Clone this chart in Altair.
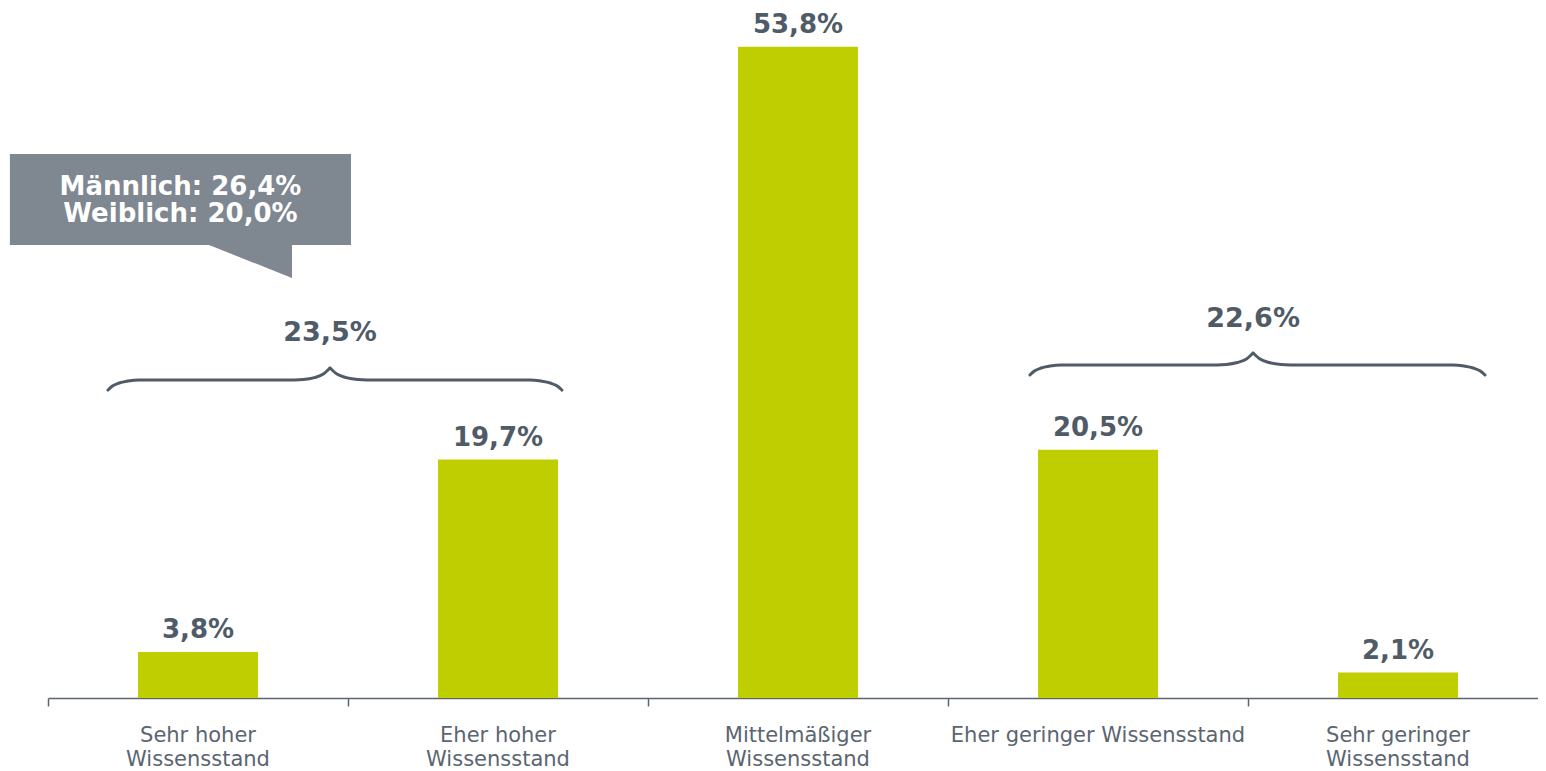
import altair as alt
import pandas as pd

# ---- data ----
categories = ["Sehr hoher\nWissensstand", "Eher hoher\nWissensstand", "Mittelmäßiger\nWissensstand",
              "Eher geringer Wissensstand", "Sehr geringer\nWissensstand"]
positions = [0, 1, 2, 3, 4]
values = [3.8, 19.7, 53.8, 20.5, 2.1]
value_labels = ["3,8%", "19,7%", "53,8%", "20,5%", "2,1%"]

brace_labels = ["23,5%", "22,6%"]
brace_left = [-0.30, 2.773]
brace_tip = [0.44, 3.517]
brace_right = [1.213, 4.29]
brace_end_y = [25.44, 26.68]
brace_label_y = [29.49, 30.65]

# normalized half-brace shape (fraction toward tip, rise in % units)
shape_u = [0, 0.02, 0.05, 0.09, 0.14, 0.80, 0.88, 0.93, 0.97, 1.0]
shape_rise = [0, 0.33, 0.58, 0.74, 0.83, 0.83, 0.88, 1.03, 1.32, 1.82]

callout_lines = "Männlich: 26,4%\nWeiblich: 20,0%"
callout_box = {"x": -0.627, "x2": 0.51, "y": 44.94, "y2": 37.42}
callout_ptr_x = [0.0367, 0.3133]
callout_ptr_y = [37.42, 34.70]
callout_text_pos = {"x": -0.0583, "y": 41.55}

tick_values = [-0.5, 0.5, 1.5, 2.5, 3.5, 4.5]

GREEN = "#BFCE00"
DARK = "#4f5b67"
AXIS = "#5b6670"
LABEL = "#5a6571"
BOX = "#7f8791"
FONT = "DejaVu Sans"

X_DOMAIN = [-0.5, 4.4667]
Y_DOMAIN = [0, 57]

bars_df = pd.DataFrame({"pos": positions, "value": values, "label": value_labels, "cat": categories})

rows = []
for i in range(len(brace_labels)):
    for u, r in zip(shape_u, shape_rise):
        rows.append({"grp": f"{i}L", "x": brace_left[i] + u * (brace_tip[i] - brace_left[i]), "y": brace_end_y[i] + r})
        rows.append({"grp": f"{i}R", "x": brace_right[i] - u * (brace_right[i] - brace_tip[i]), "y": brace_end_y[i] + r})
brace_df = pd.DataFrame(rows)
brace_lab_df = pd.DataFrame({"x": brace_tip, "y": brace_label_y, "label": brace_labels})

xs = alt.Scale(domain=X_DOMAIN, nice=False, zero=False, padding=0)
ys = alt.Scale(domain=Y_DOMAIN, nice=False, padding=0)

base = alt.Chart(bars_df)

bars = base.mark_bar(size=120, color=GREEN).encode(
    x=alt.X("pos:Q", scale=xs, axis=alt.Axis(values=tick_values, labels=False, grid=False, title=None,
                                              domainColor=AXIS, domainWidth=1.5, tickColor=AXIS,
                                              tickSize=8, tickWidth=1.5)),
    y=alt.Y("value:Q", scale=ys, axis=None),
)

vlabels = base.mark_text(font=FONT, fontSize=26, fontWeight="bold", color=DARK, baseline="alphabetic", dy=-14).encode(
    x=alt.X("pos:Q", scale=xs), y=alt.Y("value:Q", scale=ys, axis=None), text="label:N")

catlabels = base.mark_text(font=FONT, fontSize=21, color=LABEL, baseline="alphabetic", dy=44,
                           lineBreak="\n", lineHeight=24).encode(
    x=alt.X("pos:Q", scale=xs), y=alt.value(690), text="cat:N")

braces = alt.Chart(brace_df).mark_line(color=DARK, strokeWidth=3, interpolate="monotone", strokeCap="round").encode(
    x=alt.X("x:Q", scale=xs), y=alt.Y("y:Q", scale=ys, axis=None), detail="grp:N", order="x:Q")

blabels = alt.Chart(brace_lab_df).mark_text(font=FONT, fontSize=27, fontWeight="bold", color=DARK,
                                           baseline="alphabetic").encode(
    x=alt.X("x:Q", scale=xs), y=alt.Y("y:Q", scale=ys, axis=None), text="label:N")

box = alt.Chart(pd.DataFrame([callout_box])).mark_rect(color=BOX).encode(
    x=alt.X("x:Q", scale=xs), x2="x2:Q", y=alt.Y("y:Q", scale=ys, axis=None), y2="y2:Q")

ptr = alt.Chart(pd.DataFrame({"x": callout_ptr_x, "y": callout_ptr_y, "y2": [callout_ptr_y[0]] * 2})).mark_area(
    color=BOX).encode(x=alt.X("x:Q", scale=xs), y=alt.Y("y:Q", scale=ys, axis=None), y2="y2:Q")

ctext = alt.Chart(pd.DataFrame([{**callout_text_pos, "t": callout_lines}])).mark_text(
    font=FONT, fontSize=26, fontWeight="bold", color="white", baseline="alphabetic",
    lineBreak="\n", lineHeight=27).encode(x=alt.X("x:Q", scale=xs), y=alt.Y("y:Q", scale=ys, axis=None), text="t:N")

chart = alt.layer(bars, vlabels, catlabels, braces, blabels, box, ptr, ctext).properties(
    width=1490, height=690,
    autosize=alt.AutoSizeParams(type="none"),
    padding={"left": 40, "top": 0, "right": 0, "bottom": 80},
    background="white",
).configure_view(stroke=None).configure_axis(grid=False)

chart.save("out.html", embed_options={"renderer": "svg", "actions": False})
